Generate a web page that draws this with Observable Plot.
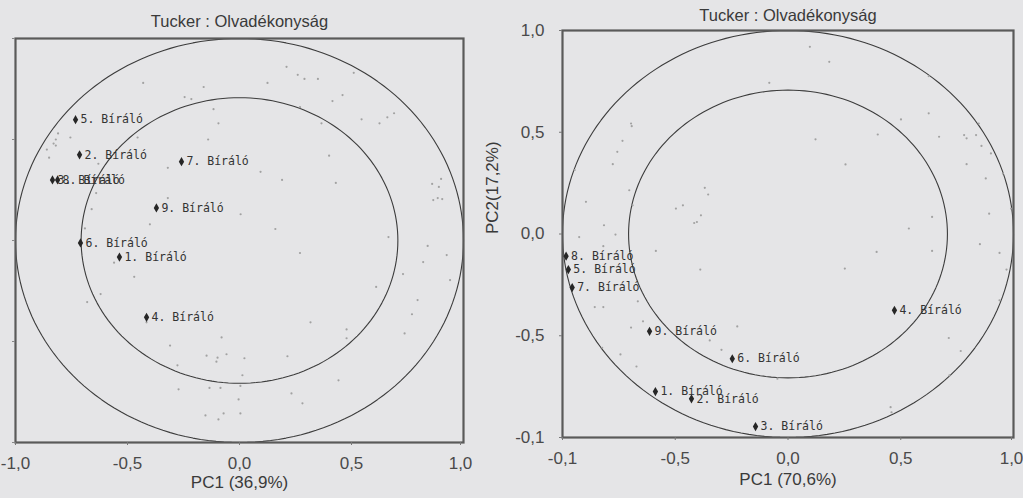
<!DOCTYPE html>
<html>
<head>
<meta charset="utf-8">
<script src="https://cdn.jsdelivr.net/npm/d3@7"></script>
<script src="https://cdn.jsdelivr.net/npm/@observablehq/plot@0.6"></script>
<style>
  html, body { margin: 0; padding: 0; background: #e5e5e7; }
  #wrap { position: relative; width: 1023px; height: 498px; overflow: hidden; background: #e5e5e7; }
  #left, #right { position: absolute; top: 0; }
  #left { left: 0; }
  #right { left: 480px; }
</style>
</head>
<body>
<div id="wrap"><div id="left"></div><div id="right"></div></div>
<script>
// ---------------- DATA ----------------
const chartTitle = "Tucker : Olvadékonyság";
const leftXLabel = "PC1 (36,9%)";
const rightXLabel = "PC1 (70,6%)";
const rightYLabel = "PC2(17,2%)";

const tickValues = [-1, -0.5, 0, 0.5, 1];
const leftXTickLabels = ["-1,0", "-0,5", "0,0", "0,5", "1,0"];
const rightXTickLabels = ["-0,1", "-0,5", "0,0", "0,5", "1,0"];
const rightYTickLabels = ["-0,1", "-0,5", "0,0", "0,5", "1,0"];

const circleRadii = [1, 0.707];

const judgeNames = ["1. Bíráló", "2. Bíráló", "3. Bíráló", "4. Bíráló", "5. Bíráló",
                    "6. Bíráló", "7. Bíráló", "8. Bíráló", "9. Bíráló"];
const leftJudgeX = [-0.536, -0.714, -0.835, -0.415, -0.732, -0.710, -0.259, -0.812, -0.371];
const leftJudgeY = [-0.082, 0.424, 0.300, -0.380, 0.598, -0.012, 0.390, 0.300, 0.161];
const rightJudgeX = [-0.588, -0.428, -0.144, 0.472, -0.974, -0.247, -0.957, -0.984, -0.614];
const rightJudgeY = [-0.774, -0.810, -0.946, -0.375, -0.175, -0.613, -0.263, -0.109, -0.478];

// attribute loadings (small grey dots)
const leftDots = [
  [-0.43,0.78],[-0.16,0.76],[0.21,0.86],[0.26,0.82],[0.29,0.80],[0.35,0.80],[0.125,0.78],[0.51,0.83],
  [-0.245,0.71],[-0.215,0.70],[-0.116,0.65],[-0.094,0.58],[0.27,0.66],[0.415,0.69],[0.46,0.72],
  [0.545,0.60],[0.625,0.58],[0.66,0.61],[0.69,0.63],[0.366,0.58],[-0.14,0.50],[-0.455,0.51],
  [-0.755,0.51],[-0.82,0.50],[-0.83,0.48],[-0.82,0.47],[-0.81,0.53],[-0.86,0.45],[-0.85,0.41],
  [-0.63,0.38],[-0.32,0.36],[0.094,0.34],[0.19,0.30],[0.40,0.42],[0.43,0.285],[-0.64,0.235],
  [-0.66,0.155],[-0.32,0.21],[0.005,0.13],[-0.40,0.08],[-0.69,0.06],[0.16,0.057],[0.665,0.017],
  [0.84,-0.027],[0.86,0.28],[0.90,0.305],[0.89,0.265],[0.865,0.20],[0.905,0.205],[0.885,0.21],
  [0.925,-0.072],[0.27,-0.062],[-0.56,-0.11],[-0.47,-0.18],[0.82,-0.107],[0.73,-0.166],[0.94,-0.196],
  [0.61,-0.23],[-0.62,-0.265],[-0.68,-0.305],[0.795,-0.295],[0.77,-0.365],[-0.415,-0.405],[0.317,-0.405],
  [0.737,-0.46],[0.478,-0.44],[0.478,-0.484],[-0.08,-0.48],[-0.31,-0.52],[-0.147,-0.57],[-0.098,-0.58],
  [-0.103,-0.60],[-0.058,-0.563],[0.022,-0.583],[0.214,-0.573],[-0.277,-0.618],[0.013,-0.667],
  [0.004,-0.72],[-0.134,-0.73],[-0.085,-0.73],[-0.272,-0.737],[0.232,-0.757],[0.442,-0.692],
  [-0.004,-0.787],[0.281,-0.806],[-0.152,-0.866],[-0.071,-0.856],[-0.094,-0.886],[0.004,-0.856]
];
const rightDots = [
  [0.097,0.92],[0.183,0.846],[-0.083,0.743],[0.624,0.776],[-0.696,0.543],[-0.693,0.53],[-0.734,0.458],
  [-0.757,0.404],[-0.777,0.343],[-0.946,0.314],[-0.704,0.215],[-0.896,0.158],[-0.926,-0.015],
  [-0.816,0.043],[-0.765,-0.003],[-0.819,-0.06],[-0.689,0.141],[-0.497,0.125],[-0.466,0.141],
  [-0.369,0.227],[-0.354,0.194],[-0.386,0.092],[-0.416,0.054],[-0.404,0.059],[0.122,0.465],
  [0.255,0.342],[0.398,0.489],[0.501,0.563],[0.624,0.593],[0.67,0.478],[0.781,0.486],[0.792,0.47],
  [0.834,0.486],[0.846,0.543],[0.858,0.433],[0.9,0.396],[0.792,0.343],[0.877,0.273],[0.953,0.297],
  [0.892,0.1],[0.989,0.125],[0.639,0.084],[0.536,0.027],[0.851,-0.05],[-0.586,-0.083],[0.393,-0.088],
  [0.639,-0.083],[0.938,-0.093],[-0.389,-0.175],[0.252,-0.17],[0.969,-0.175],[-0.666,-0.331],
  [-0.857,-0.359],[-0.819,-0.359],[0.938,-0.326],[-0.643,-0.429],[-0.696,-0.46],[-0.347,-0.523],
  [-0.225,-0.454],[-0.295,-0.569],[0.713,-0.511],[-0.824,-0.559],[-0.743,-0.592],[-0.672,-0.651],
  [0.766,-0.575],[0.716,-0.695],[-0.047,-0.711],[0.455,-0.851],[0.459,-0.876]
];

// ---------------- BUILD ----------------
const circlePts = circleRadii.flatMap(r =>
  d3.range(0, 361, 2).map(a => ({r, x: r * Math.cos(a * Math.PI / 180), y: r * Math.sin(a * Math.PI / 180)})));
const leftJudges = judgeNames.map((n, i) => ({name: n, x: leftJudgeX[i], y: leftJudgeY[i]}));
const rightJudges = judgeNames.map((n, i) => ({name: n, x: rightJudgeX[i], y: rightJudgeY[i]}));

const baseStyle = {fontFamily: "'Liberation Sans', Arial, sans-serif", fontSize: "17px", background: "transparent", color: "#4a4a4a"};
const labelFont = "'DejaVu Sans Mono', monospace";

function panel({width, margins, xLabels, yLabels, judges, dots, xTitle, yTitle, titleDy, xTitleDy, lastTickDx}) {
  const inner = tickValues.slice(0, -1);
  const last = tickValues.slice(-1);
  const marks = [
    Plot.line(circlePts, {x: "x", y: "y", z: "r", stroke: "#3c3c3c", strokeWidth: 1.1}),
    Plot.dot(dots, {x: d => d[0], y: d => d[1], r: 1.1, fill: "#a2a2a2", stroke: "none"}),
    Plot.frame({stroke: "#5a5a5a", strokeWidth: 2.2}),
    Plot.axisX({ticks: inner, tickFormat: d => xLabels[tickValues.indexOf(d)], tickSize: 3, tickPadding: 11, label: null, stroke: "#777"}),
    Plot.axisX({ticks: last, tickFormat: d => xLabels[tickValues.indexOf(d)], tickSize: 3, tickPadding: 11, label: null, stroke: "#777", dx: lastTickDx}),
    yLabels
      ? Plot.axisY({ticks: tickValues, tickFormat: d => yLabels[tickValues.indexOf(d)], tickSize: 3, tickPadding: 15, label: null, stroke: "#777"})
      : Plot.axisY({ticks: tickValues, tickFormat: () => "", tickSize: 3, label: null, stroke: "#888"}),
    Plot.dot(judges, {x: "x", y: "y", symbol: "diamond", r: 2.8, fill: "#262626", stroke: "none"}),
    Plot.text(judges, {x: "x", y: "y", text: "name", textAnchor: "start", dx: 5, fontFamily: labelFont, fontSize: 11.5, fill: "#333"}),
    Plot.text([chartTitle], {frameAnchor: "top", dy: titleDy, fontSize: 16.5, fill: "#3a3a3a"}),
    Plot.text([xTitle], {frameAnchor: "bottom", dy: xTitleDy, fontSize: 17, fill: "#3a3a3a"})
  ];
  if (yTitle) marks.push(Plot.text([yTitle], {frameAnchor: "left", rotate: -90, dx: -70, fontSize: 17, fill: "#3a3a3a"}));
  return Plot.plot({
    width, height: 498,
    ...margins,
    x: {domain: [-1, 1]},
    y: {domain: [-1, 1]},
    style: baseStyle,
    marks
  });
}

document.getElementById("left").appendChild(panel({
  width: 480,
  margins: {marginLeft: 15, marginRight: 17, marginTop: 38, marginBottom: 56},
  xLabels: leftXTickLabels, yLabels: null, judges: leftJudges, dots: leftDots,
  xTitle: leftXLabel, yTitle: null, titleDy: -23, xTitleDy: 45, lastTickDx: -3
}));
document.getElementById("right").appendChild(panel({
  width: 543,
  margins: {marginLeft: 82, marginRight: 10, marginTop: 30, marginBottom: 61},
  xLabels: rightXTickLabels, yLabels: rightYTickLabels, judges: rightJudges, dots: rightDots,
  xTitle: rightXLabel, yTitle: rightYLabel, titleDy: -21, xTitleDy: 47, lastTickDx: -2
}));
</script>
</body>
</html>
